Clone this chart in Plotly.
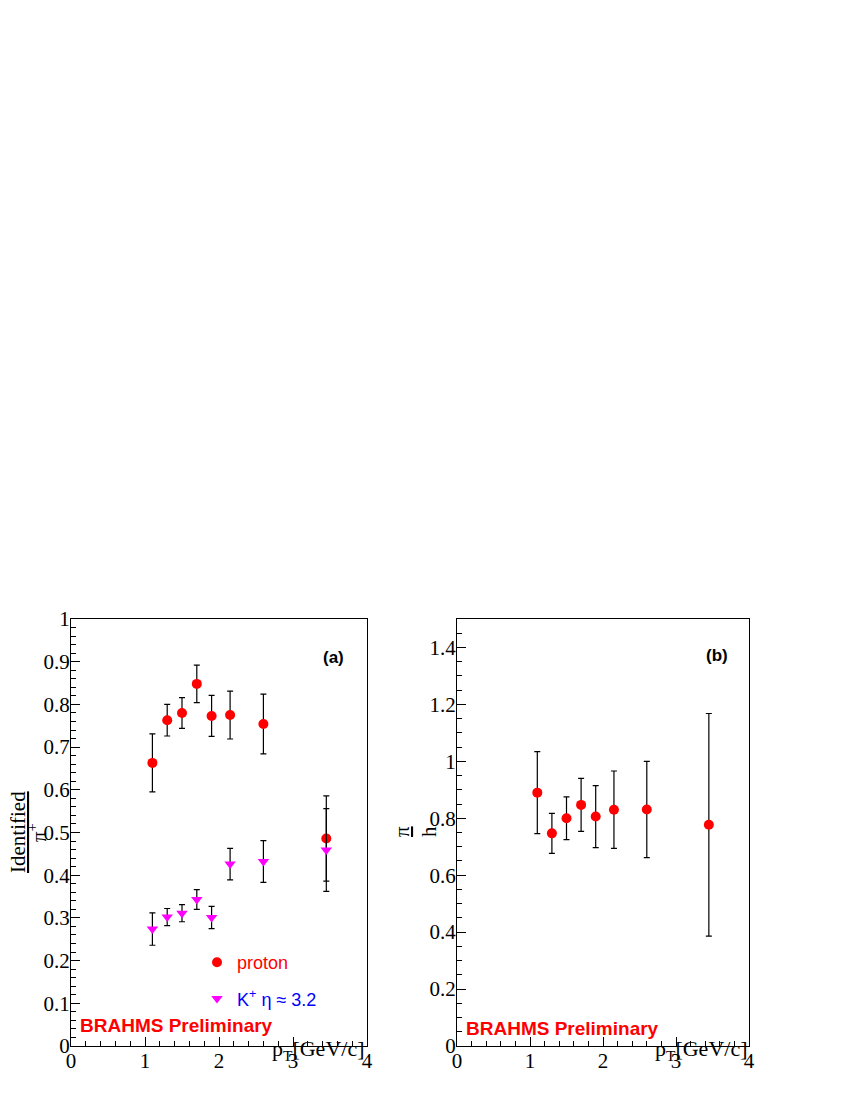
import plotly.graph_objects as go

# ---------------- data ----------------
pt = [1.10, 1.30, 1.50, 1.70, 1.90, 2.15, 2.60, 3.45]

proton_ratio = [0.663, 0.763, 0.780, 0.848, 0.773, 0.775, 0.754, 0.486]
proton_err = [0.068, 0.037, 0.036, 0.044, 0.048, 0.056, 0.070, 0.100]

kaon_ratio = [0.274, 0.302, 0.311, 0.343, 0.301, 0.426, 0.432, 0.459]
kaon_err = [0.038, 0.020, 0.020, 0.023, 0.026, 0.037, 0.049, 0.097]

pih_ratio = [0.890, 0.747, 0.800, 0.847, 0.806, 0.830, 0.831, 0.777]
pih_err = [0.144, 0.070, 0.075, 0.093, 0.109, 0.136, 0.169, 0.391]

W, H = 850, 1100
OFF = 8  # page body margin


def px(x):
    return (x - OFF) / W


def py(y):
    return (H - (y - OFF)) / H


serif = "Liberation Serif, Times New Roman, serif"
sans = "Liberation Sans, Arial, sans-serif"

fig = go.Figure()

err_style = dict(type="data", color="black", thickness=1.2, width=3, visible=True)

fig.add_trace(go.Scatter(
    x=pt, y=proton_ratio, mode="markers",
    marker=dict(symbol="circle", size=10, color="red"),
    error_y=dict(array=proton_err, **err_style),
    name='<span style="color:red">proton</span>',
    legendgroup="p", xaxis="x", yaxis="y"))

fig.add_trace(go.Scatter(
    x=pt, y=kaon_ratio, mode="markers",
    marker=dict(symbol="triangle-down", size=10, color="magenta"),
    error_y=dict(array=kaon_err, **err_style),
    name='<span style="color:blue">K<sup>+</sup> η ≈ 3.2</span>',
    legendgroup="k", xaxis="x", yaxis="y"))

fig.add_trace(go.Scatter(
    x=pt, y=pih_ratio, mode="markers",
    marker=dict(symbol="circle", size=10, color="red"),
    error_y=dict(array=pih_err, **err_style),
    showlegend=False, xaxis="x2", yaxis="y2"))

axis_common = dict(
    showgrid=False, zeroline=False, showline=True, linecolor="black",
    linewidth=1, mirror=True, ticks="inside", tickcolor="black",
    ticklen=9, tickwidth=1, automargin=False, ticklabelstandoff=-4,
    tickfont=dict(family=serif, size=21, color="black"),
)

y_dom = [py(1046), py(619)]

fig.update_layout(
    width=W, height=H,
    margin=dict(l=0, r=0, t=0, b=0),
    paper_bgcolor="white", plot_bgcolor="white",
    showlegend=True,
    legend=dict(
        x=px(197), y=py(944), xanchor="left", yanchor="top",
        bgcolor="rgba(0,0,0,0)", borderwidth=0,
        font=dict(family=sans, size=18),
        tracegroupgap=10, itemwidth=30,
    ),
    xaxis=dict(domain=[px(71), px(367)], range=[0, 4], dtick=1,
               minor=dict(dtick=0.2, ticklen=5, ticks="inside", tickcolor="black"),
               anchor="y", **axis_common),
    yaxis=dict(domain=y_dom, range=[0, 1], dtick=0.1,
               minor=dict(dtick=0.02, ticklen=5, ticks="inside", tickcolor="black"),
               anchor="x", **axis_common),
    xaxis2=dict(domain=[px(457), px(749)], range=[0, 4], dtick=1,
                minor=dict(dtick=0.2, ticklen=5, ticks="inside", tickcolor="black"),
                anchor="y2", **axis_common),
    yaxis2=dict(domain=y_dom, range=[0, 1.5], dtick=0.2,
                minor=dict(dtick=0.05, ticklen=5, ticks="inside", tickcolor="black"),
                anchor="x2", **axis_common),
)

ann = []
# y-axis titles
ann.append(dict(xref="paper", yref="paper", x=px(18), y=py(832),
                text="<u>Identified</u>", textangle=-90,
                showarrow=False, font=dict(family=serif, size=21, color="black"),
                xanchor="center", yanchor="middle", borderpad=0))
ann.append(dict(xref="paper", yref="paper", x=px(37), y=py(833),
                text="π<sup>+</sup>", textangle=-90,
                showarrow=False, font=dict(family=serif, size=21, color="black"),
                xanchor="center", yanchor="middle", borderpad=0))
ann.append(dict(xref="paper", yref="paper", x=px(416), y=py(832),
                text="<u>π</u><br>h", textangle=-90,
                showarrow=False, font=dict(family=serif, size=21, color="black"),
                xanchor="center", yanchor="middle"))
# x-axis titles
for xr in (366, 749):
    ann.append(dict(xref="paper", yref="paper", x=px(xr), y=py(1050),
                    text="p<sub>T</sub>[GeV/c]", showarrow=False,
                    font=dict(family=serif, size=22, color="black"),
                    xanchor="right", yanchor="middle"))
# panel labels
ann.append(dict(xref="paper", yref="paper", x=px(333), y=py(657), text="<b>(a)</b>",
                showarrow=False, font=dict(family=sans, size=17, color="black"),
                xanchor="center", yanchor="middle"))
ann.append(dict(xref="paper", yref="paper", x=px(717), y=py(655), text="<b>(b)</b>",
                showarrow=False, font=dict(family=sans, size=17, color="black"),
                xanchor="center", yanchor="middle"))
# BRAHMS Preliminary
ann.append(dict(xref="paper", yref="paper", x=px(78), y=py(1025), text="<b>BRAHMS Preliminary</b>",
                showarrow=False, font=dict(family=sans, size=19, color="red"),
                xanchor="left", yanchor="middle"))
ann.append(dict(xref="paper", yref="paper", x=px(464), y=py(1028), text="<b>BRAHMS Preliminary</b>",
                showarrow=False, font=dict(family=sans, size=19, color="red"),
                xanchor="left", yanchor="middle"))

fig.update_layout(annotations=ann)

fig.write_html("out.html")
